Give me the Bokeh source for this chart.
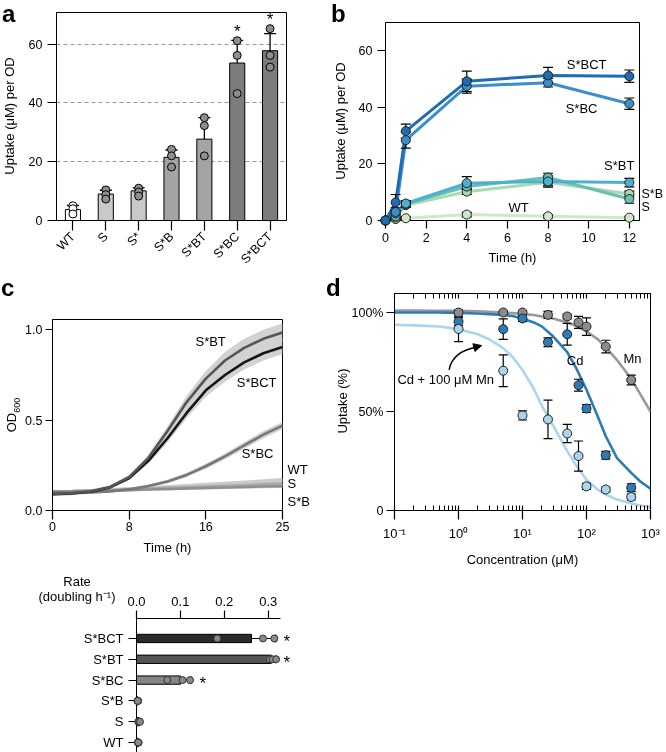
import math
from bokeh.plotting import figure
from bokeh.models import (Range1d, FactorRange, FixedTicker, Whisker, TeeHead, Label,
                          LinearAxis, LogAxis, ColumnDataSource, Arrow, NormalHead,
                          PrintfTickFormatter, Div)
from bokeh.layouts import row, column
from bokeh.embed import file_html
from bokeh.resources import INLINE
from bokeh.core.properties import value

FONT = "Liberation Sans"

# ---------------- panel a data ----------------
a_strains = ["WT", "S", "S*", "S*B", "S*BT", "S*BC", "S*BCT"]
a_mean = [3.7, 9.0, 10.1, 21.5, 27.7, 53.6, 57.8]
a_err_top = [5.1, 10.3, 11.1, 24.0, 35.0, 61.3, 63.6]
a_rep1 = [5.0, 10.4, 11.0, 24.2, 35.0, 61.2, 65.3]
a_rep2 = [4.0, 8.8, 9.7, 22.0, 32.3, 56.2, 56.2]
a_rep3 = [2.2, 7.3, 8.3, 18.2, 22.0, 43.2, 52.2]
a_significant = [False, False, False, False, False, True, True]
a_yticks = [0, 20, 40, 60]

# ---------------- panel b data ----------------
b_time = [0, 0.5, 1, 4, 8, 12]
b_names = ["WT", "S", "S*B", "S*BT", "S*BC", "S*BCT"]
b_WT = [0, 0.5, 0.8, 2.1, 1.5, 1.0]
b_S = [0, 1.0, 5.4, 10.2, 13.5, 9.4]
b_SB = [0, 1.5, 5.8, 12.0, 15.2, 7.6]
b_SBT = [0, 2.5, 6.0, 13.2, 13.8, 13.4]
b_SBC = [0, 3.0, 28.4, 47.5, 48.7, 41.3]
b_SBCT = [0, 6.4, 31.6, 49.2, 51.3, 51.0]
b_WT_err = [0.3, 0.3, 0.5, 0.8, 0.6, 0.5]
b_S_err = [0.3, 0.5, 0.8, 1.0, 1.2, 1.0]
b_SB_err = [0.3, 0.8, 1.0, 1.0, 1.5, 1.5]
b_SBT_err = [0.3, 1.0, 1.0, 2.3, 2.0, 1.5]
b_SBC_err = [0.3, 1.5, 2.8, 2.5, 1.5, 2.0]
b_SBCT_err = [0.3, 2.8, 2.5, 3.6, 2.8, 2.2]
b_xticks = [0, 2, 4, 6, 8, 10, 12]
b_yticks = [0, 20, 40, 60]

# ---------------- panel c (growth curves) data ----------------
c_time = [0, 2, 4, 6, 8, 10, 12, 14, 16, 18, 20, 22, 24]
c_names = ["WT", "S", "S*B", "S*BC", "S*BCT", "S*BT"]
c_WT = [0.105, 0.108, 0.112, 0.117, 0.122, 0.127, 0.132, 0.138, 0.144, 0.150, 0.156, 0.163, 0.170]
c_S = [0.105, 0.107, 0.110, 0.113, 0.117, 0.121, 0.125, 0.129, 0.133, 0.137, 0.141, 0.146, 0.150]
c_SB = [0.105, 0.106, 0.108, 0.110, 0.113, 0.116, 0.119, 0.122, 0.125, 0.127, 0.130, 0.133, 0.135]
c_SBC = [0.098, 0.099, 0.100, 0.106, 0.117, 0.135, 0.160, 0.197, 0.245, 0.300, 0.360, 0.420, 0.470]
c_SBCT = [0.090, 0.094, 0.104, 0.128, 0.180, 0.275, 0.400, 0.540, 0.665, 0.750, 0.820, 0.870, 0.905]
c_SBT = [0.092, 0.096, 0.106, 0.130, 0.185, 0.290, 0.440, 0.600, 0.730, 0.830, 0.900, 0.950, 0.985]
c_band_small = [0.006, 0.006, 0.006, 0.006, 0.007, 0.007, 0.008, 0.008, 0.009, 0.009, 0.010, 0.010, 0.010]
c_band_SBC = [0.006, 0.006, 0.006, 0.006, 0.007, 0.008, 0.010, 0.012, 0.014, 0.016, 0.018, 0.020, 0.020]
c_band_SBCT = [0.010, 0.010, 0.010, 0.010, 0.012, 0.016, 0.022, 0.030, 0.035, 0.038, 0.040, 0.040, 0.040]
c_band_SBT = [0.010, 0.010, 0.010, 0.010, 0.013, 0.018, 0.025, 0.035, 0.042, 0.048, 0.050, 0.050, 0.050]
c_xtick_vals = [0, 8, 16, 24]
c_xtick_labels = ["0", "8", "16", "25"]
c_yticks = [0.0, 0.5, 1.0]

# ---------------- panel c (rates) data ----------------
r_strains = ["S*BCT", "S*BT", "S*BC", "S*B", "S", "WT"]
r_mean = [0.262, 0.307, 0.100, 0.003, 0.005, 0.004]
r_err_top = [0.317, 0.317, 0.124, 0.004, 0.007, 0.005]
r_rep1 = [0.184, 0.304, 0.070, 0.002, 0.004, 0.003]
r_rep2 = [0.288, 0.310, 0.105, 0.004, 0.006, 0.005]
r_rep3 = [0.314, 0.318, 0.122, 0.003, 0.008, 0.004]
r_significant = [True, True, True, False, False, False]
r_xticks = [0.0, 0.1, 0.2, 0.3]

# ---------------- panel d data ----------------
d_conc = [1, 5, 10, 25, 50, 75, 100, 200, 500]
d_Mn = [100, 100, 100, 98.8, 98.0, 95.0, 92.9, 82.8, 65.9]
d_Mn_err = [1.2, 1.0, 1.0, 1.8, 1.2, 3.0, 4.4, 3.2, 2.5]
d_Cd = [95.4, 91.6, 97.0, 85.0, 89.0, 63.3, 51.5, 27.9, 11.5]
d_Cd_err = [2.0, 5.2, 1.5, 2.2, 5.5, 3.0, 2.0, 2.0, 2.0]
d_CdMn = [91.7, 70.6, 48.0, 46.0, 38.9, 27.5, 12.2, 10.6, 6.8]
d_CdMn_err = [6.4, 8.0, 2.3, 9.7, 4.6, 7.6, 1.5, 1.2, 1.5]
d_fit_x = [0.1, 0.2, 0.5, 1, 2, 3, 5, 7, 10, 15, 20, 30, 50, 70, 100, 150, 200, 300, 500, 700, 1000]
d_fit_Mn = [101, 101, 100.9, 100.8, 100.6, 100.4, 100, 99.7, 99.3, 98.7, 98, 97, 95, 93, 90.5, 86.5, 82.5, 76, 66.5, 58.5, 50]
d_fit_Cd = [100, 100, 100, 99.8, 99.5, 99.2, 98.8, 98.2, 97, 95, 93, 88, 80, 71.5, 61, 47.5, 37.5, 26.5, 19, 14.5, 11]
d_fit_CdMn = [93.8, 93.5, 92.9, 91.6, 89, 86.5, 82, 77.5, 71, 61.5, 53, 43, 30, 22.5, 15.5, 10.5, 8, 5.5, 3.5, 2.5, 1.7]
d_xticks = [0.1, 1, 10, 100, 1000]
d_xtick_labels = ["10\u207b\u00b9", "10\u2070", "10\u00b9", "10\u00b2", "10\u00b3"]
d_yticks = [0, 50, 100]
d_ytick_labels = ["0", "50%", "100%"]


# ---------------- helpers ----------------
def base_fig(**kw):
    p = figure(output_backend="svg", toolbar_location=None, **kw)
    p.background_fill_color = "white"
    p.border_fill_color = "white"
    p.outline_line_color = "black"
    p.outline_line_width = 1
    p.outline_line_alpha = 1
    p.xgrid.visible = False
    p.ygrid.visible = False
    try:
        p.frame_align = False
    except Exception:
        pass
    return p


def style_axis(ax, tick_out=8, tick_in=0, size="12.5px", standoff=4, label_standoff=6):
    ax.major_tick_out = tick_out
    ax.major_tick_in = tick_in
    ax.minor_tick_out = 0
    ax.minor_tick_in = 0
    ax.minor_tick_line_color = None
    ax.major_tick_line_color = "black"
    ax.major_tick_line_width = 1.2
    ax.axis_line_color = "black"
    ax.axis_line_width = 1
    ax.major_label_text_font = FONT
    ax.major_label_text_font_size = size
    ax.major_label_text_color = "black"
    ax.major_label_standoff = standoff
    ax.axis_label_text_font = FONT
    ax.axis_label_text_font_size = "13px"
    ax.axis_label_text_font_style = "normal"
    ax.axis_label_text_color = "black"
    ax.axis_label_standoff = label_standoff


def side_labels(p, side, ticks, labels, standoff, size="13px"):
    ax = LinearAxis(ticker=FixedTicker(ticks=ticks),
                    major_label_overrides={t: l for t, l in zip(ticks, labels)})
    style_axis(ax, tick_out=0, standoff=standoff, size=size)
    ax.axis_line_color = None
    ax.major_tick_line_color = None
    p.add_layout(ax, side)


def note(p, txt, x, y, align="center", baseline="middle", size="13px"):
    p.add_layout(Label(x=x, y=y, text=txt, text_font=FONT, text_font_size=size,
                       text_color="black", text_align=align, text_baseline=baseline))


def overlay_div(txt, left, top, width, size="24px", weight="bold", align="left",
                line_height="24px"):
    # absolutely positioned free text, takes no room in the layout
    return Div(text=txt, width=width, height=0,
               styles={"position": "absolute", "left": f"{left}px", "top": f"{top}px",
                       "font-family": FONT, "font-size": size, "font-weight": weight,
                       "line-height": line_height, "color": "black", "text-align": align,
                       "z-index": "10", "margin": "0px", "padding": "0px",
                       "overflow": "visible", "white-space": "nowrap"})


def vertical_title(txt, cx, cy, w=170, h=16):
    # rotated axis title centred on (cx, cy)
    return Div(text=txt, width=w, height=h,
               styles={"position": "absolute", "left": f"{cx - w / 2}px",
                       "top": f"{cy - h / 2}px", "transform": "rotate(-90deg)",
                       "transform-origin": "50% 50%", "font-family": FONT,
                       "font-size": "13px", "line-height": f"{h}px", "color": "black",
                       "text-align": "center", "z-index": "10", "margin": "0px",
                       "padding": "0px", "overflow": "visible", "white-space": "nowrap"})


# ================= panel a =================
a_bar_colors = ["#ffffff", "#c9c9c9", "#c9c9c9", "#a4a4a4", "#a4a4a4", "#7c7c7c", "#7c7c7c"]
a_dot_colors = ["#ffffff", "#8e8e8e", "#8e8e8e", "#8e8e8e", "#8e8e8e", "#8e8e8e", "#8e8e8e"]

pa = base_fig(x_range=FactorRange(factors=a_strains), y_range=Range1d(0, 70.8),
              frame_width=230, frame_height=208, min_border_left=56, min_border_right=47,
              min_border_top=12, min_border_bottom=70)
pa.ygrid.visible = True
pa.ygrid.ticker = FixedTicker(ticks=[t for t in a_yticks if t > 0])
pa.ygrid.grid_line_color = "#9a9a9a"
pa.ygrid.grid_line_dash = "4 3"
pa.ygrid.grid_line_width = 1
style_axis(pa.yaxis[0], tick_out=9, standoff=5)
style_axis(pa.xaxis[0], tick_out=10, standoff=4)
pa.yaxis.ticker = FixedTicker(ticks=a_yticks)
pa.xaxis.major_label_orientation = math.pi / 4
pa.xaxis.major_label_text_font_size = "12.5px"

src_a = ColumnDataSource(dict(strain=a_strains, mean=a_mean, top=a_err_top, color=a_bar_colors))
pa.vbar(x="strain", top="mean", width=0.46, source=src_a, fill_color="color",
        line_color="black", line_width=1)
pa.add_layout(Whisker(base="strain", lower="mean", upper="top", source=src_a,
                      line_color="black", line_width=1.3, level="annotation",
                      upper_head=TeeHead(size=12, line_color="black", line_width=1.3),
                      lower_head=None))
ra = pa.scatter(a_strains * 3, a_rep1 + a_rep2 + a_rep3, size=8,
                fill_color=a_dot_colors * 3, line_color="black", line_width=1)
ra.level = "overlay"
star_x = [s for s, sig in zip(a_strains, a_significant) if sig]
star_y = [max(t, r1, r2, r3) + 3.0 for t, r1, r2, r3, sig in
          zip(a_err_top, a_rep1, a_rep2, a_rep3, a_significant) if sig]
pa.text(x=star_x, y=star_y, text=["*"] * len(star_x), text_font=value(FONT),
        text_font_size="17px", text_align="center", text_baseline="middle", text_color="black")

# ================= panel b =================
b_colors = ["#cfe8cc", "#a7d9b2", "#69c0ae", "#4cb0d4", "#3b8fc8", "#1f6cb2"]
b_vals = [b_WT, b_S, b_SB, b_SBT, b_SBC, b_SBCT]
b_errs = [b_WT_err, b_S_err, b_SB_err, b_SBT_err, b_SBC_err, b_SBCT_err]

pb = base_fig(x_range=Range1d(0, 12.5), y_range=Range1d(0, 70),
              frame_width=254, frame_height=198, min_border_left=52, min_border_right=27,
              min_border_top=22, min_border_bottom=70)
style_axis(pb.yaxis[0], tick_out=8, standoff=5)
style_axis(pb.xaxis[0], tick_out=8, standoff=4, label_standoff=5)
pb.xaxis.ticker = FixedTicker(ticks=b_xticks)
pb.yaxis.ticker = FixedTicker(ticks=b_yticks)
pb.xaxis.axis_label = "Time (h)"

for name, vals, errs, col in zip(b_names, b_vals, b_errs, b_colors):
    src = ColumnDataSource(dict(t=b_time, v=vals,
                                lo=[v - e for v, e in zip(vals, errs)],
                                hi=[v + e for v, e in zip(vals, errs)]))
    pb.line("t", "v", source=src, line_width=3, line_color=col)
    pb.add_layout(Whisker(base="t", lower="lo", upper="hi", source=src, line_color="black",
                          line_width=1.2, level="annotation",
                          upper_head=TeeHead(size=10, line_color="black", line_width=1.2),
                          lower_head=TeeHead(size=10, line_color="black", line_width=1.2)))
    rb = pb.scatter("t", "v", source=src, size=9, fill_color=col, line_color="#222222",
                    line_width=1)
    rb.level = "overlay"

note(pb, "S*BCT", 9.9, 55.2)
note(pb, "S*BC", 9.65, 39.7)
note(pb, "S*BT", 11.5, 19.3)
note(pb, "WT", 6.55, 4.6)
side_labels(pb, "right", [9.4, 4.9], ["S*B", "S"], standoff=2, size="12.5px")

# ================= panel c (curves) =================
c_vals = [c_WT, c_S, c_SB, c_SBC, c_SBCT, c_SBT]
c_bands = [c_band_small, c_band_small, c_band_small, c_band_SBC, c_band_SBCT, c_band_SBT]
c_colors = ["#c9c9c9", "#a9a9a9", "#8f8f8f", "#777777", "#151515", "#555555"]

pc = base_fig(x_range=Range1d(0, 24), y_range=Range1d(0, 1.057),
              frame_width=230, frame_height=191, min_border_left=52, min_border_right=51,
              min_border_top=29, min_border_bottom=52)
style_axis(pc.yaxis[0], tick_out=7, standoff=3, size="12.5px")
style_axis(pc.xaxis[0], tick_out=9, standoff=2, label_standoff=6, size="12.5px")
pc.xaxis.ticker = FixedTicker(ticks=c_xtick_vals)
pc.xaxis.major_label_overrides = {v: l for v, l in zip(c_xtick_vals, c_xtick_labels)}
pc.yaxis.ticker = FixedTicker(ticks=c_yticks)
pc.yaxis.formatter = PrintfTickFormatter(format="%.1f")
pc.xaxis.axis_label = "Time (h)"

for vals, band in zip(c_vals, c_bands):
    pc.varea(x=c_time, y1=[v - b for v, b in zip(vals, band)],
             y2=[v + b for v, b in zip(vals, band)], fill_color="#d2d2d2", fill_alpha=1)
for vals, col in zip(c_vals, c_colors):
    pc.line(c_time, vals, line_width=2.6, line_color=col)

note(pc, "S*BT", 16.5, 0.937)
note(pc, "S*BCT", 21.3, 0.71)
note(pc, "S*BC", 21.4, 0.314)
side_labels(pc, "right", [0.227, 0.148, 0.051], ["WT", "S", "S*B"], standoff=5)

# ================= panel c (rates) =================
r_idx = list(range(len(r_strains)))
r_bar_colors = ["#2a2a2a", "#545454", "#858585", "#858585", "#858585", "#858585"]

pc2 = base_fig(x_range=Range1d(0, 0.328), y_range=Range1d(5.48, -0.96),
               frame_width=144, frame_height=134, min_border_left=136, min_border_right=53,
               min_border_top=56, min_border_bottom=0, x_axis_location="above")
pc2.outline_line_color = None
style_axis(pc2.xaxis[0], tick_out=8, standoff=5, size="13px")
pc2.xaxis.ticker = FixedTicker(ticks=r_xticks)
pc2.xaxis.formatter = PrintfTickFormatter(format="%.1f")
style_axis(pc2.yaxis[0], tick_out=8, standoff=5, size="13px")
pc2.yaxis.ticker = FixedTicker(ticks=r_idx)
pc2.yaxis.major_label_overrides = {i: s for i, s in zip(r_idx, r_strains)}

src_r = ColumnDataSource(dict(y=r_idx, m=r_mean, hi=r_err_top, c=r_bar_colors))
pc2.hbar(y="y", left=0, right="m", height=0.4, source=src_r, fill_color="c",
         line_color="black", line_width=1)
pc2.add_layout(Whisker(base="y", lower="m", upper="hi", dimension="width", source=src_r,
                       line_color="black", line_width=1.2, level="annotation",
                       upper_head=TeeHead(size=8, line_color="black", line_width=1.2),
                       lower_head=None))
rr = pc2.scatter(r_rep1 + r_rep2 + r_rep3, r_idx * 3, size=7, fill_color="#8a8a8a",
                 line_color="#333333", line_width=1)
rr.level = "overlay"
out_stars = []
for i, (hi, a, b, c, sig) in enumerate(zip(r_err_top, r_rep1, r_rep2, r_rep3, r_significant)):
    if sig:
        sx = max(hi, a, b, c) + 0.027
        if sx < 0.32:
            note(pc2, "*", sx, i + 0.15, size="17px")
        else:
            out_stars.append(i + 0.15)
side_labels(pc2, "right", out_stars, ["*"] * len(out_stars), standoff=3, size="17px")

# ================= panel d =================
pd = base_fig(x_axis_type="log", x_range=Range1d(0.1, 1000), y_range=Range1d(0, 109.6),
              frame_width=256, frame_height=217, min_border_left=61, min_border_right=16,
              min_border_top=3, min_border_bottom=242)
minor = [m * 10.0 ** k for k in range(-1, 3) for m in range(2, 10)]
style_axis(pd.xaxis[0], tick_out=9, tick_in=5, standoff=6, label_standoff=8, size="13px")
pd.xaxis.ticker = FixedTicker(ticks=d_xticks, minor_ticks=minor)
pd.xaxis.minor_tick_in = 5
pd.xaxis.minor_tick_out = 0
pd.xaxis.minor_tick_line_color = "black"
pd.xaxis.major_label_overrides = {v: l for v, l in zip(d_xticks, d_xtick_labels)}
pd.xaxis.axis_label = "Concentration (\u03bcM)"
style_axis(pd.yaxis[0], tick_out=8, standoff=3, size="12.5px")
pd.yaxis.ticker = FixedTicker(ticks=d_yticks)
pd.yaxis.major_label_overrides = {v: l for v, l in zip(d_yticks, d_ytick_labels)}
top_ax = LogAxis(ticker=FixedTicker(ticks=d_xticks, minor_ticks=minor),
                 major_label_overrides={v: " " for v in d_xticks})
style_axis(top_ax, tick_out=0, tick_in=5, standoff=0, size="1px")
top_ax.minor_tick_in = 5
top_ax.minor_tick_line_color = "black"
top_ax.major_label_text_alpha = 0
pd.add_layout(top_ax, "above")

d_series = [(d_fit_Mn, d_Mn, d_Mn_err, "#9a9a9a", "#8c8c8c"),
            (d_fit_Cd, d_Cd, d_Cd_err, "#2b7cb6", "#2b7cb6"),
            (d_fit_CdMn, d_CdMn, d_CdMn_err, "#a9d6ec", "#a9d6ec")]
for fit, vals, errs, lc, fc in d_series:
    pd.line(d_fit_x, fit, line_width=2.6, line_color=lc)
for fit, vals, errs, lc, fc in d_series:
    src = ColumnDataSource(dict(x=d_conc, v=vals, lo=[v - e for v, e in zip(vals, errs)],
                                hi=[v + e for v, e in zip(vals, errs)]))
    pd.add_layout(Whisker(base="x", lower="lo", upper="hi", source=src, line_color="black",
                          line_width=1.2, level="annotation",
                          upper_head=TeeHead(size=9, line_color="black", line_width=1.2),
                          lower_head=TeeHead(size=9, line_color="black", line_width=1.2)))
    rd = pd.scatter("x", "v", source=src, size=9, fill_color=fc, line_color="#222222",
                    line_width=1)
    rd.level = "overlay"

pd.quadratic(x0=[0.713], y0=[71.0], x1=[2.0], y1=[82.6], cx=[0.80], cy=[80.5],
             line_color="black", line_width=1.5)
pd.add_layout(Arrow(end=NormalHead(size=8, fill_color="black", line_color="black"),
                    x_start=1.7, y_start=82.2, x_end=2.3, y_end=83.3,
                    line_color="black", line_width=1.5))
note(pd, "Cd + 100 \u03bcM Mn", 3.6, 66.2, align="right")
note(pd, "Cd", 66.4, 75.7)
note(pd, "Mn", 523, 76.9)

# ================= panel letters / free texts =================
texts = [
    overlay_div("a", 2, 2, 22),
    overlay_div("b", 331, 2, 22),
    overlay_div("c", 1, 276, 22),
    overlay_div("d", 326, 276, 22),
    overlay_div("Rate<br>(doubling h\u207b\u00b9)", 7, 574, 140, size="13px",
                weight="normal", align="center", line_height="15px"),
    vertical_title("Uptake (\u03bcM) per OD", 10, 116),
    vertical_title("Uptake (\u03bcM) per OD", 341, 121),
    vertical_title("OD<sub style='font-size:9px'>600</sub>", 12, 415, w=60),
    vertical_title("Uptake (%)", 343, 401, w=100),
]

layout = column(row(pa, pb), row(column(pc, pc2), pd), *texts,
                styles={"position": "fixed", "left": "0px", "top": "0px"})
open("out.html", "w").write(file_html(layout, INLINE))
